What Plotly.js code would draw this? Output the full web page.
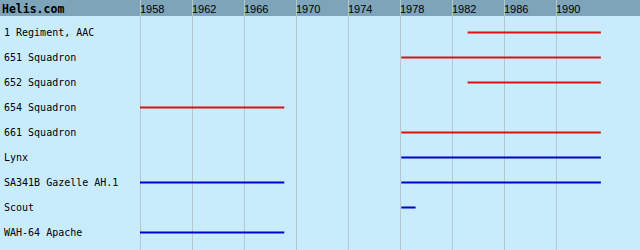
<!DOCTYPE html>
<html>
<head>
<meta charset="utf-8">
<script src="https://cdn.plot.ly/plotly-3.0.1.min.js"></script>
<style>html,body{margin:0;padding:0;background:#c8ecfc;}#chart{width:640px;height:250px;}</style>
</head>
<body>
<div id="chart"></div>
<script>
// Data
const units = ["1 Regiment, AAC", "651 Squadron", "652 Squadron", "654 Squadron", "661 Squadron",
               "Lynx", "SA341B Gazelle AH.1", "Scout", "WAH-64 Apache"];
const unitKind = ["unit", "unit", "unit", "unit", "unit", "aircraft", "aircraft", "aircraft", "aircraft"];
const periodUnit  = [0, 1, 2, 3, 4, 5, 6, 6, 7, 8];
const periodStart = [1983.2, 1978.1, 1983.2, 1958, 1978.1, 1978.1, 1958, 1978.1, 1978.1, 1958];
const periodEnd   = [1993.45, 1993.45, 1993.45, 1969.1, 1993.45, 1993.45, 1969.1, 1993.45, 1979.2, 1969.1];
const yearTicks = [1958, 1962, 1966, 1970, 1974, 1978, 1982, 1986, 1990];
const siteName = "Helis.com";

// Styles
const kindColor = {unit: "#dd1111", aircraft: "#0000cc"};
const W = 640, H = 250, headerH = 16, rowTop = 32.5, rowStep = 25;
const xPx0 = 140, pxPerYear = 13;

const xRange = [yearTicks[0] - xPx0 / pxPerYear, yearTicks[0] + (W - xPx0) / pxPerYear];
const yRange = [(H - rowTop) / rowStep, (0 - rowTop) / rowStep];

const traces = periodStart.map((s, i) => ({
  type: "scatter", mode: "lines",
  x: [s, periodEnd[i]],
  y: [periodUnit[i], periodUnit[i]],
  line: {color: kindColor[unitKind[periodUnit[i]]], width: 2},
  hoverinfo: "skip", showlegend: false
}));

const layout = {
  width: W, height: H,
  margin: {l: 0, r: 0, t: 0, b: 0, pad: 0},
  paper_bgcolor: "#c8ecfc", plot_bgcolor: "#c8ecfc",
  showlegend: false,
  xaxis: {
    range: xRange, side: "top",
    tickmode: "array", tickvals: yearTicks, ticktext: yearTicks.map(String),
    ticklabelposition: "inside right", ticks: "", ticklabelstandoff: -1,
    tickfont: {family: "Liberation Sans, Arial, sans-serif", size: 11, color: "#000"},
    showgrid: true, gridcolor: "#b4c6ce", gridwidth: 1,
    zeroline: false, showline: false, fixedrange: true
  },
  yaxis: {
    range: yRange, autorange: false,
    tickmode: "array", tickvals: units.map((u, i) => i), ticktext: units,
    ticklabelposition: "inside", ticks: "", ticklabelstandoff: 1,
    tickfont: {family: "DejaVu Sans Mono, monospace", size: 10, color: "#000"},
    showgrid: false, zeroline: false, showline: false, fixedrange: true
  },
  shapes: [{
    type: "rect", xref: "paper", yref: "paper", layer: "below",
    x0: 0, x1: 1, y0: 1 - headerH / H, y1: 1,
    fillcolor: "#7ea4ba", line: {width: 0}
  }],
  annotations: [{
    text: "<b>" + siteName + "</b>", xref: "paper", yref: "paper",
    x: 0, y: 1, xanchor: "left", yanchor: "top", showarrow: false,
    xshift: 0, yshift: 0,
    font: {family: "DejaVu Sans Mono, monospace", size: 11.5, color: "#000"}
  }]
};

Plotly.newPlot("chart", traces, layout, {displayModeBar: false, staticPlot: true});
</script>
</body>
</html>
